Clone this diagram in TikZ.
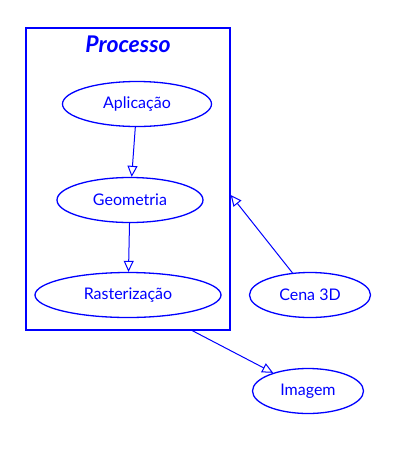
\documentclass[tikz,border=0pt]{standalone}
\usepackage{fontspec}
\setmainfont{Lato}
\usetikzlibrary{arrows.meta,shapes.geometric}
\definecolor{skBlue}{HTML}{0000FF}

\begin{document}
\begin{tikzpicture}[x=1pt,y=-1pt,
  usecase/.style={draw=skBlue,line width=1.3pt,ellipse,inner sep=0pt,text=skBlue,
    minimum height=45pt,font=\fontsize{16}{18}\selectfont},
  flow/.style={draw=skBlue,line width=1pt,-{Triangle[open,length=11pt,width=10pt]}}]
\useasboundingbox (0,0) rectangle (408,453);
% pacote
\node[draw=skBlue,line width=1.4pt,minimum width=204pt,minimum height=302pt] (pkg) at (128,179){};
\node[text=skBlue,font=\fontsize{23}{25}\selectfont\bfseries\itshape] (title) at (128,44){Processo};
% casos
\node[usecase,minimum width=149pt] (app) at (137,104){Aplicação};
\node[usecase,minimum width=146pt] (geo) at (130,200){Geometria};
\node[usecase,minimum width=186pt] (ras) at (128,295){Rasterização};
\node[usecase,minimum width=121pt] (cena) at (310,295){Cena 3D};
\node[usecase,minimum width=111pt] (img) at (308,391){Imagem};
% setas
\draw[flow] (app) -- (geo);
\draw[flow] (geo) -- (ras);
\draw[flow] (cena) -- (pkg.east |- 0,195);
\draw[flow] (pkg.-67) -- (img);
\end{tikzpicture}
\end{document}
